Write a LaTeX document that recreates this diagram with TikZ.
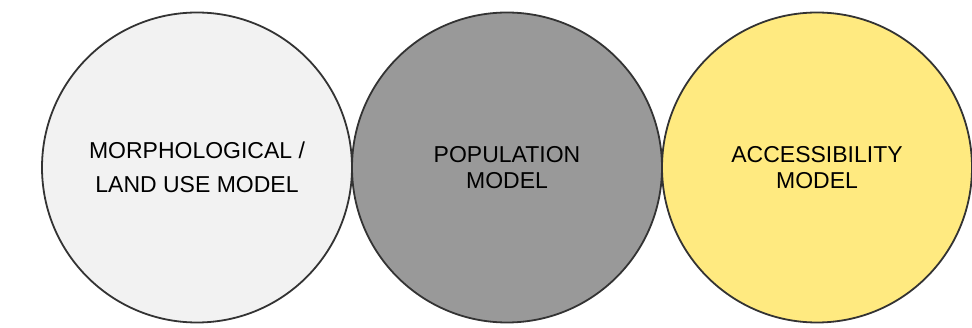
\documentclass[tikz,border=0pt]{standalone}
\usepackage{fontspec}
\setmainfont{Liberation Sans}
\usetikzlibrary{positioning}
\definecolor{edgegray}{HTML}{333333}
\definecolor{morphgray}{HTML}{F2F2F2}
\definecolor{popgray}{HTML}{999999}
\definecolor{accyellow}{HTML}{FFEA80}

\begin{document}
\begin{tikzpicture}[x=1pt, y=1pt, font=\fontsize{23}{26}\selectfont,
    model/.style={circle, draw=edgegray, line width=1.8pt, minimum size=310pt,
      inner sep=0pt, outer sep=0pt, align=center}]
  \useasboundingbox (0,0) rectangle (972,-328);
  % three sub-models side by side, touching
  \node[model, fill=morphgray, font=\fontsize{23}{34}\selectfont] (morph) at (197,-167.5) {MORPHOLOGICAL /\\LAND USE MODEL};
  \node[model, fill=popgray, right=0pt of morph] (pop) {POPULATION\\MODEL};
  \node[model, fill=accyellow, right=0pt of pop] (acc) {ACCESSIBILITY\\MODEL};
\end{tikzpicture}
\end{document}
